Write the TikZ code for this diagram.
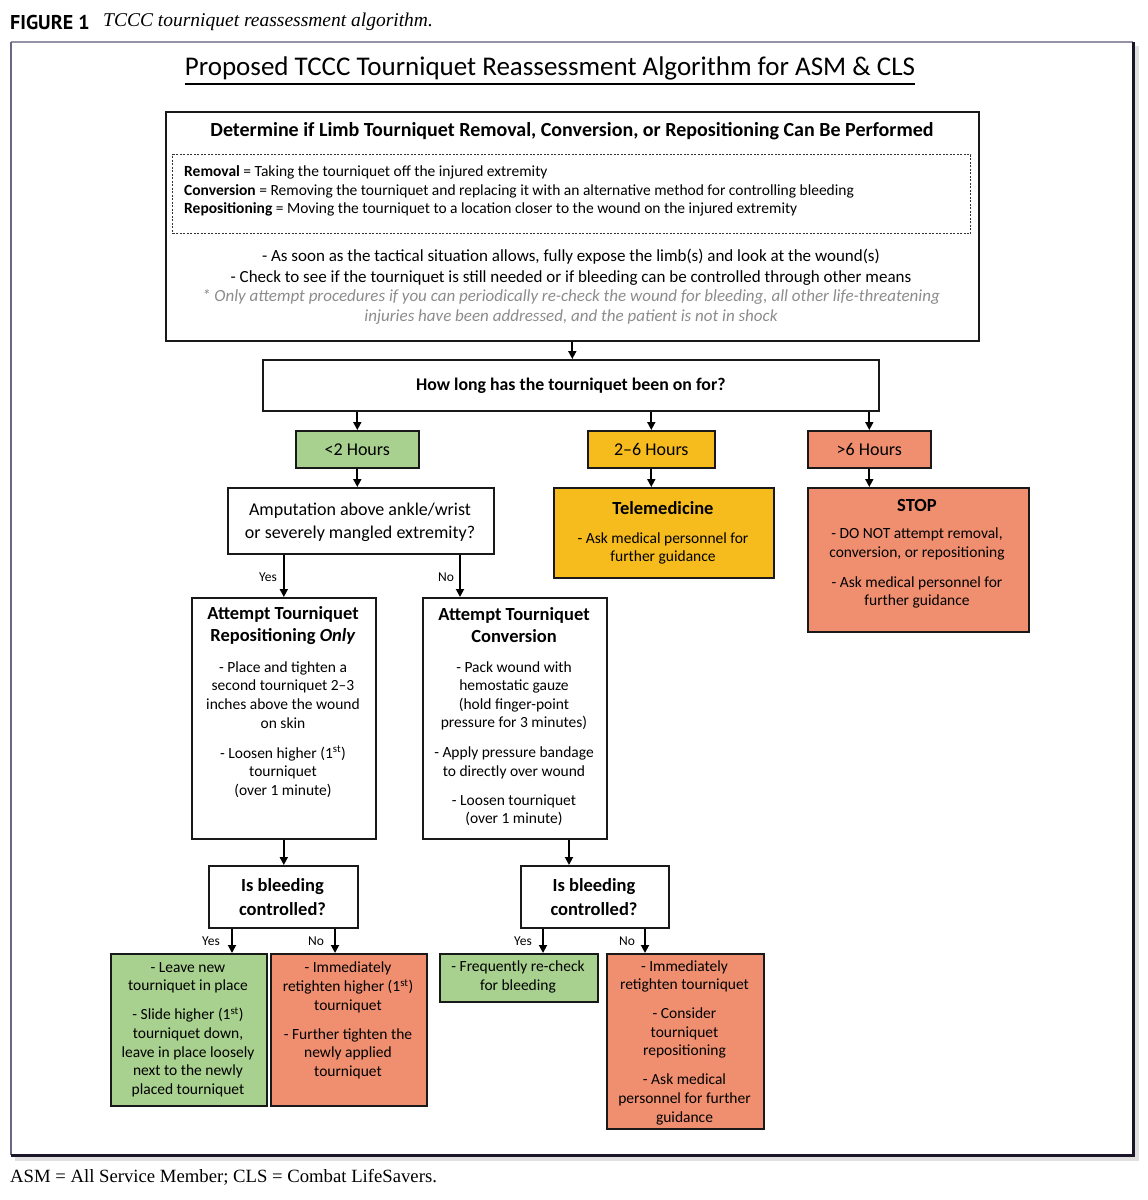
\documentclass[tikz,border=0pt]{standalone}
\usepackage{fontspec}
\setmainfont{Carlito}
\newfontfamily\capsans{PT Sans}
\newfontfamily\capserif{Liberation Serif}
\usetikzlibrary{arrows.meta,calc}
\definecolor{boxgreen}{RGB}{168,208,142}
\definecolor{boxgold}{RGB}{246,188,30}
\definecolor{boxsalmon}{RGB}{240,143,112}
\definecolor{notegray}{RGB}{140,140,140}
\definecolor{framedark}{RGB}{26,22,40}
\definecolor{frameleft}{RGB}{110,100,132}
\definecolor{frametop}{RGB}{150,145,165}
\newcommand{\fsz}[2]{\fontsize{#1}{#2}\selectfont}
\begin{document}
\begin{tikzpicture}[x=1pt,y=-1pt,
  box/.style={draw=black!90, line width=1.6pt, inner sep=0pt, anchor=north west},
  txt/.style={inner sep=0pt, align=center, font=\fsz{15.5}{18.6}},
  hdr/.style={inner sep=0pt, align=center, font=\fsz{18.5}{22}\bfseries},
  arr/.style={-{Triangle[length=8pt,width=8pt]}, line width=1.8pt},
  lbl/.style={inner sep=0pt, font=\fsz{13.5}{16}},
]
\useasboundingbox (0,0) rectangle (1148,1200);
\fill[white] (0,0) rectangle (1148,1200);

% caption
\node[inner sep=0pt, anchor=west, font=\capsans\bfseries\fsz{20}{24}] (figlbl) at (10,22) {FIGURE 1};
\node[inner sep=0pt, anchor=west, font=\capserif\itshape\fsz{19.5}{23}] (figcap) at (103,22) {TCCC tourniquet reassessment algorithm.};
\node[inner sep=0pt, anchor=west, font=\capserif\fsz{18.7}{22}] (foot) at (10,1177) {ASM = All Service Member; CLS = Combat LifeSavers.};

% frame
\draw[black!12, line width=4pt] (15,1159) -- (1137,1159) -- (1137,46);
\draw[frametop, line width=2pt] (1133,42) -- (11,42);
\draw[frameleft, line width=2.5pt] (11,42) -- (11,1155);
\draw[framedark, line width=3pt] (11,1155) -- (1133,1155) -- (1133,42);

% title
\node[inner sep=0pt, font=\fsz{27}{32}] (title) at (550,68) {Proposed TCCC Tourniquet Reassessment Algorithm for ASM \& CLS};
\draw[line width=1.6pt] (title.west |- 0,84) -- (title.east |- 0,84);

% boxes
\node[box, minimum width=813, minimum height=229] (box1) at (165,111) {};
\node[box, draw=black!80, line width=1pt, dash pattern=on 2pt off 1.5pt, minimum width=798, minimum height=79] (defs) at (172,154) {};
\node[box, minimum width=616, minimum height=51] (box2) at (262,359) {};
\node[box, fill=boxgreen, minimum width=123, minimum height=37] (lt) at (295,430) {};
\node[box, fill=boxgold, minimum width=127, minimum height=37] (mid) at (587,430) {};
\node[box, fill=boxsalmon, minimum width=123, minimum height=37] (gt) at (807,430) {};
\node[box, minimum width=266, minimum height=66] (amp) at (227,487) {};
\node[box, fill=boxgold, minimum width=220, minimum height=90] (tele) at (553,487) {};
\node[box, fill=boxsalmon, minimum width=221, minimum height=144] (stop) at (807,487) {};
\node[box, minimum width=184, minimum height=241] (repos) at (191,597) {};
\node[box, minimum width=184, minimum height=241] (conv) at (422,597) {};
\node[box, minimum width=149, minimum height=62] (bl1) at (208,865) {};
\node[box, minimum width=148, minimum height=62] (bl2) at (520,865) {};
\node[box, fill=boxgreen, minimum width=156, minimum height=152] (g1) at (110,953) {};
\node[box, fill=boxsalmon, minimum width=156, minimum height=152] (s1) at (270,953) {};
\node[box, fill=boxgreen, minimum width=158, minimum height=48] (g2) at (439,953) {};
\node[box, fill=boxsalmon, minimum width=157, minimum height=175] (s2) at (606,953) {};

% texts in box 1
\node[inner sep=0pt, font=\fsz{20}{24}\bfseries] (h1) at (572,131) {Determine if Limb Tourniquet Removal, Conversion, or Repositioning Can Be Performed};
\node[inner sep=0pt, anchor=west, align=left, font=\fsz{15.5}{18.8}] (deftxt) at (184,191) {\textbf{Removal} = Taking the tourniquet off the injured extremity\\
\textbf{Conversion} = Removing the tourniquet and replacing it with an alternative method for controlling bleeding\\
\textbf{Repositioning} = Moving the tourniquet to a location closer to the wound on the injured extremity};
\node[inner sep=0pt, align=center, font=\fsz{17}{20.5}] (bul) at (571,267) {- As soon as the tactical situation allows, fully expose the limb(s) and look at the wound(s)\\
- Check to see if the tourniquet is still needed or if bleeding can be controlled through other means};
\node[inner sep=0pt, align=center, text=notegray, font=\fsz{17}{20}\itshape] (note) at (571,307) {* Only attempt procedures if you can periodically re-check the wound for bleeding, all other life-threatening\\
injuries have been addressed, and the patient is not in shock};

% other texts
\node[inner sep=0pt, font=\fsz{17.8}{21}\bfseries] (q1) at (box2.center) {How long has the tourniquet been on for?};
\node[inner sep=0pt, font=\fsz{18}{21}] (ltt) at (lt.center) {<2 Hours};
\node[inner sep=0pt, font=\fsz{18}{21}] (midt) at (mid.center) {2–6 Hours};
\node[inner sep=0pt, font=\fsz{18}{21}] (gtt) at (gt.center) {>6 Hours};
\node[inner sep=0pt, align=center, font=\fsz{18}{23}] (ampt) at (360,522) {Amputation above ankle/wrist\\or severely mangled extremity?};
\node[hdr] (teleh) at (663,508) {Telemedicine};
\node[txt] (telet) at (663,548.5) {- Ask medical personnel for\\further guidance};
\node[hdr] (stoph) at (917,505) {STOP};
\node[txt] (stopt) at (917,568) {- DO NOT attempt removal,\\conversion, or repositioning\\[11.4pt]- Ask medical personnel for\\further guidance};
\node[hdr] (reposh) at (283,625.5) {Attempt Tourniquet\\Repositioning \textit{Only}};
\node[txt] (repost) at (283,729.5) {- Place and tighten a\\second tourniquet 2–3\\inches above the wound\\on skin\\[11.4pt]- Loosen higher (1\textsuperscript{st})\\tourniquet\\(over 1 minute)};
\node[hdr] (convh) at (514,625.5) {Attempt Tourniquet\\Conversion};
\node[txt] (convt) at (514,743.5) {- Pack wound with\\hemostatic gauze\\(hold finger-point\\pressure for 3 minutes)\\[11.4pt]- Apply pressure bandage\\to directly over wound\\[10pt]- Loosen tourniquet\\(over 1 minute)};
\node[hdr, font=\fsz{18.5}{24}\bfseries] (bl1t) at (282.5,897) {Is bleeding\\controlled?};
\node[hdr, font=\fsz{18.5}{24}\bfseries] (bl2t) at (594,897) {Is bleeding\\controlled?};
\node[txt] (g1t) at (188,1029.5) {- Leave new\\tourniquet in place\\[10.4pt]- Slide higher (1\textsuperscript{st})\\tourniquet down,\\leave in place loosely\\next to the newly\\placed tourniquet};
\node[txt] (s1t) at (348,1020.5) {- Immediately\\retighten higher (1\textsuperscript{st})\\tourniquet\\[10.4pt]- Further tighten the\\newly applied\\tourniquet};
\node[txt] (g2t) at (518,977) {- Frequently re-check\\for bleeding};
\node[txt] (s2t) at (684.5,1042.5) {- Immediately\\retighten tourniquet\\[10.4pt]- Consider\\tourniquet\\repositioning\\[10.4pt]- Ask medical\\personnel for further\\guidance};

% helper x positions
\coordinate (xno) at (460,0);
\coordinate (xc) at (569,0);
\coordinate (xy1) at (232,0);
\coordinate (xn1) at (335,0);
\coordinate (xy2) at (543,0);
\coordinate (xn2) at (645,0);

% arrows
\draw[arr] (box1.south) -- (box1.south |- box2.north);
\draw[arr] (lt.north |- box2.south) -- (lt.north);
\draw[arr] (mid.north |- box2.south) -- (mid.north);
\draw[arr] (gt.north |- box2.south) -- (gt.north);
\draw[arr] (lt.south) -- (lt.south |- amp.north);
\draw[arr] (mid.south) -- (mid.south |- tele.north);
\draw[arr] (gt.south) -- (gt.south |- stop.north);
\draw[arr] (repos.north |- amp.south) -- (repos.north);
\draw[arr] (xno |- amp.south) -- (xno |- conv.north);
\draw[arr] (repos.south) -- (repos.south |- bl1.north);
\draw[arr] (xc |- conv.south) -- (xc |- bl2.north);
\draw[arr] (xy1 |- bl1.south) -- (xy1 |- g1.north);
\draw[arr] (xn1 |- bl1.south) -- (xn1 |- s1.north);
\draw[arr] (xy2 |- bl2.south) -- (xy2 |- g2.north);
\draw[arr] (xn2 |- bl2.south) -- (xn2 |- s2.north);

% labels
\node[lbl] (yes1) at (268,577) {Yes};
\node[lbl] (no1) at (446,577) {No};
\node[lbl] (yes2) at (211,941) {Yes};
\node[lbl] (no2) at (316,941) {No};
\node[lbl] (yes3) at (523,941) {Yes};
\node[lbl] (no3) at (627,941) {No};
\end{tikzpicture}
\end{document}
